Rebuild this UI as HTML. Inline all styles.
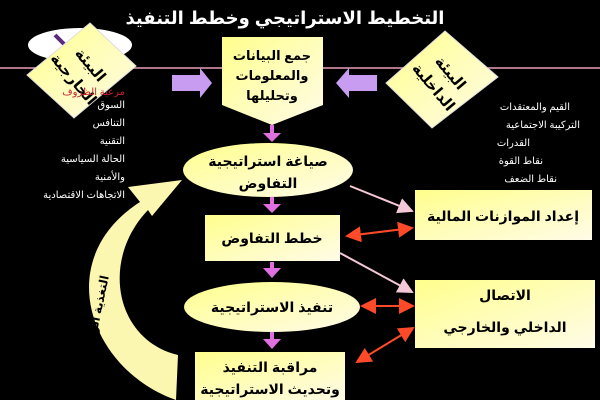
<!DOCTYPE html>
<html><head><meta charset="utf-8"><style>
html,body{margin:0;padding:0;background:#000;}
svg{display:block}
text{font-family:"Liberation Sans","DejaVu Sans",sans-serif;}
</style></head><body>
<svg width="600" height="400" viewBox="0 0 600 400" xmlns="http://www.w3.org/2000/svg">
<defs>
<linearGradient id="g" x1="0" y1="0" x2="1" y2="1">
<stop offset="0" stop-color="#ffff8c"/><stop offset="1" stop-color="#fffbe8"/>
</linearGradient>
<marker id="pa" markerWidth="8" markerHeight="8" refX="7" refY="4" orient="auto"><path d="M0,0 L8,4 L0,8Z" fill="#f4c8d8"/></marker>
<marker id="ra" markerWidth="8" markerHeight="8" refX="7" refY="4" orient="auto"><path d="M0,0 L8,4 L0,8Z" fill="#ff4a2a"/></marker>
<marker id="rs" markerWidth="8" markerHeight="8" refX="1" refY="4" orient="auto"><path d="M8,0 L0,4 L8,8Z" fill="#ff4a2a"/></marker>
</defs>
<rect width="600" height="400" fill="#000"/>
<text x="285" y="24" fill="#fff" font-size="18" font-weight="bold" text-anchor="middle">التخطيط الاستراتيجي وخطط التنفيذ</text>
<line x1="0" y1="68" x2="600" y2="68" stroke="#e8a0b8" stroke-width="1.5"/>
<ellipse cx="80" cy="45" rx="52" ry="17" fill="#fff"/>
<path d="M55,35 L75,55 L95,35" stroke="#5a2a80" stroke-width="4" fill="none"/>
<polygon points="90,23 136,66 74,118 27,75" fill="url(#g)" stroke="#ddd"/>
<g transform="rotate(50 82 72)">
<text x="82" y="66" font-size="15" font-weight="bold" text-anchor="middle">البيئة</text>
<text x="82" y="88" font-size="15" font-weight="bold" text-anchor="middle">الخارجية</text>
</g>
<polygon points="445,31 498,77 432,128 386,83" fill="url(#g)" stroke="#ddd"/>
<g transform="rotate(50 442 80)">
<text x="442" y="74" font-size="15" font-weight="bold" text-anchor="middle">البيئة</text>
<text x="442" y="96" font-size="15" font-weight="bold" text-anchor="middle">الداخلية</text>
</g>
<polygon points="222,37 323,37 323,105 272,125 222,105" fill="url(#g)"/>
<text x="272" y="60" font-size="13" font-weight="bold" text-anchor="middle">جمع البيانات</text>
<text x="272" y="80" font-size="13" font-weight="bold" text-anchor="middle">والمعلومات</text>
<text x="272" y="100" font-size="13" font-weight="bold" text-anchor="middle">وتحليلها</text>
<polygon points="172,75 200,75 200,68 212,83 200,98 200,91 172,91" fill="#c89cf0"/>
<polygon points="377,75 349,75 349,68 336,83 349,98 349,91 377,91" fill="#c89cf0"/>
<g font-size="10" fill="#fff" text-anchor="end">
<text x="125" y="95" fill="#c0202a">مرعية الظروف</text>
<text x="125" y="108">السوق</text>
<text x="125" y="126">التنافس</text>
<text x="125" y="144">التقنية</text>
<text x="125" y="162">الحالة السياسية</text>
<text x="125" y="180">والأمنية</text>
<text x="125" y="198">الاتجاهات الاقتصادية</text>
<text x="570" y="110">القيم والمعتقدات</text>
<text x="580" y="128">التركيبة الاجتماعية</text>
<text x="530" y="146">القدرات</text>
<text x="543" y="164">نقاط القوة</text>
<text x="557" y="182">نقاط الضعف</text>
</g>
<g fill="#e070e0">
<rect x="270" y="125" width="4" height="10"/><polygon points="263,133 281,133 272,142"/>
<rect x="270" y="197" width="4" height="8"/><polygon points="263,204 281,204 272,213"/>
<rect x="270" y="262" width="4" height="8"/><polygon points="263,268 281,268 272,278"/>
<rect x="270" y="332" width="4" height="8"/><polygon points="263,339 281,339 272,349"/>
</g>
<ellipse cx="268" cy="170" rx="85" ry="27" fill="url(#g)"/>
<text x="268" y="166" font-size="14" font-weight="bold" text-anchor="middle">صياغة استراتيجية</text>
<text x="268" y="188" font-size="14" font-weight="bold" text-anchor="middle">التفاوض</text>
<rect x="205" y="215" width="135" height="46" fill="url(#g)"/>
<text x="272" y="243" font-size="14" font-weight="bold" text-anchor="middle">خطط التفاوض</text>
<ellipse cx="272" cy="307" rx="88" ry="25" fill="url(#g)"/>
<text x="272" y="312" font-size="14" font-weight="bold" text-anchor="middle">تنفيذ الاستراتيجية</text>
<rect x="195" y="352" width="150" height="50" fill="url(#g)"/>
<text x="270" y="372" font-size="14" font-weight="bold" text-anchor="middle">مراقبة التنفيذ</text>
<text x="270" y="394" font-size="14" font-weight="bold" text-anchor="middle">وتحديث الاستراتيجية</text>
<rect x="415" y="190" width="177" height="50" fill="url(#g)"/>
<text x="503" y="221" font-size="14" font-weight="bold" text-anchor="middle">إعداد الموازنات المالية</text>
<rect x="415" y="280" width="180" height="68" fill="url(#g)"/>
<text x="505" y="300" font-size="14" font-weight="bold" text-anchor="middle">الاتصال</text>
<text x="505" y="332" font-size="14" font-weight="bold" text-anchor="middle">الداخلي والخارجي</text>
<line x1="350" y1="186" x2="412" y2="211" stroke="#f4c8d8" stroke-width="2" marker-end="url(#pa)"/>
<line x1="340" y1="253" x2="412" y2="292" stroke="#f4c8d8" stroke-width="2" marker-end="url(#pa)"/>
<line x1="347" y1="236" x2="412" y2="228" stroke="#ff4a2a" stroke-width="2" marker-start="url(#rs)" marker-end="url(#ra)"/>
<line x1="362" y1="306" x2="413" y2="306" stroke="#ff4a2a" stroke-width="2" marker-start="url(#rs)" marker-end="url(#ra)"/>
<line x1="357" y1="362" x2="413" y2="328" stroke="#ff4a2a" stroke-width="2" marker-start="url(#rs)" marker-end="url(#ra)"/>
<path d="M176,400 C90,370 50,260 140,202 L128,187 L182,180 L152,216 L148,210 C100,260 115,340 178,355 Z" fill="#fbf6b0"/>
<text x="100" y="318" font-size="12" font-weight="bold" text-anchor="middle" transform="rotate(-78 100 318)">التغذية الراجعة</text>
</svg>
</body></html>
